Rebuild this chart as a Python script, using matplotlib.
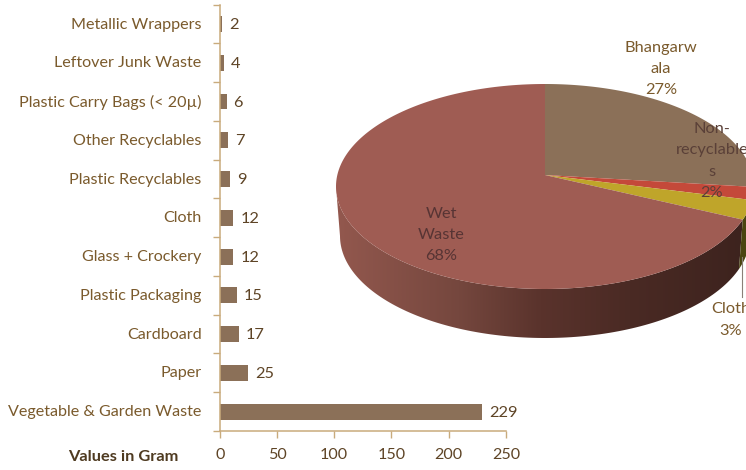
import numpy as np
import matplotlib
matplotlib.use('Agg')
import matplotlib.pyplot as plt
from matplotlib.colors import LinearSegmentedColormap
from matplotlib.patches import Polygon

# bar chart data, bottom to top
bar_labels = ['Vegetable & Garden Waste', 'Paper', 'Cardboard', 'Plastic Packaging',
              'Glass + Crockery', 'Cloth', 'Plastic Recyclables', 'Other Recyclables',
              'Plastic Carry Bags (< 20µ)', 'Leftover Junk Waste', 'Metallic Wrappers']
bar_values = [229, 25, 17, 15, 12, 12, 9, 7, 6, 4, 2]
x_ticks = [0, 50, 100, 150, 200, 250]

# pie chart data, clockwise from 12 o'clock
pie_shares = [27, 2, 3, 68]
pie_names = ['Bhangarw\nala', 'Non-\nrecyclable\ns', 'Cloth', 'Wet\nWaste']
pie_colors = ['#8b7058', '#c4493a', '#bfa52a', '#9f5c53']
side_colors = ['#4a382c', '#5c2019', '#4a4510', None]

W, H = 746, 470
FONT = 'Lato'
TEXT = '#7a5a2c'
DARK = '#5e4426'

plt.rcParams['font.family'] = [FONT, 'DejaVu Sans']
fig = plt.figure(figsize=(W / 100, H / 100), dpi=100, facecolor='white')

# pie drawn in pixel coordinates
pax = fig.add_axes([0, 0, 1, 1])

cx, cy, rx, ry = 545, 186.5, 209, 102.5
apex = (545, 175)
bx, by, brx, bry = 545, 236, 205, 102


def warp(deg):
    # perspective squeezes the angles on the right side a bit
    return deg - 7 * np.sin(np.radians(deg))


def rim(deg, x0=cx, y0=cy, a=rx, b=ry):
    t = np.radians(deg)
    return np.column_stack([x0 + a * np.sin(t), y0 - b * np.cos(t)])


def side_poly(d0, d1):
    ds = np.linspace(d0, d1, 120)
    return np.vstack([rim(ds), rim(ds[::-1], bx, by, brx, bry)])


edges = np.cumsum([0] + pie_shares) * 3.6

# side wall of the big slice has a gradient
wall = LinearSegmentedColormap.from_list('wall', [(0, '#93584e'), (0.3, '#75473e'),
                                                  (0.5, '#5a332c'), (0.72, '#4a2a24'),
                                                  (1, '#3d231e')])
wall_start = warp(edges[3])
img = pax.imshow(np.linspace(0, 1, 256)[None, :], extent=(336, 745, 345, 180),
                 cmap=wall, aspect='auto', zorder=1)
clip = Polygon(side_poly(wall_start, 270), closed=True, transform=pax.transData)
img.set_clip_path(clip)

for i in range(3):
    d0, d1 = warp(edges[i]), warp(edges[i + 1])
    if d1 > 90:
        pax.add_patch(Polygon(side_poly(max(d0, 90), d1), closed=True,
                              fc=side_colors[i], ec='none', zorder=1))

for i, color in enumerate(pie_colors):
    ds = np.linspace(warp(edges[i]), warp(edges[i + 1]), 200)
    pts = np.vstack([[apex], rim(ds)])
    pax.add_patch(Polygon(pts, closed=True, fc=color, ec='none', zorder=2))

# pie labels
PIE_FS = 11.8
LS = 1.68
pax.text(661, 69, f'{pie_names[0]}\n{pie_shares[0]}%', color=TEXT, fontsize=PIE_FS,
         ha='center', va='center', linespacing=LS, zorder=3)
pax.text(712, 161, f'{pie_names[1]}\n{pie_shares[1]}%', color='#5a4038', fontsize=PIE_FS,
         ha='center', va='center', linespacing=LS, zorder=3)
pax.text(441, 235, f'{pie_names[3]}\n{pie_shares[3]}%', color='#573434', fontsize=PIE_FS,
         ha='center', va='center', linespacing=LS, zorder=3)
pax.text(731, 320, f'{pie_names[2]}\n{pie_shares[2]}%', color=TEXT, fontsize=PIE_FS,
         ha='center', va='center', linespacing=LS, zorder=3)
pax.plot([742, 742], [257, 297], color='#8a8078', lw=0.8, zorder=3)

pax.set_xlim(0, W)
pax.set_ylim(H, 0)
pax.axis('off')

# bar chart
left, right, top, bottom = 219.7, 506, 4.6, 431
ax = fig.add_axes([left / W, 1 - bottom / H, (right - left) / W, (bottom - top) / H])
ax.patch.set_alpha(0)
y = np.arange(len(bar_values))
ax.barh(y, bar_values, height=0.41, color='#8b7058')
ax.set_xlim(0, 250)
ax.set_ylim(-0.5, len(bar_values) - 0.5)

for side in ['top', 'right']:
    ax.spines[side].set_visible(False)
for side in ['left', 'bottom']:
    ax.spines[side].set_color('#c9ab7c')
    ax.spines[side].set_linewidth(1.1)

ax.set_xticks(x_ticks)
ax.set_yticks(np.arange(len(bar_values) + 1) - 0.5)
ax.set_yticklabels([])
ax.tick_params(axis='both', color='#c9ab7c', length=5, width=1.0)
ax.tick_params(axis='x', labelsize=11.6, labelcolor=DARK, pad=7)

for yi, name, val in zip(y, bar_labels, bar_values):
    ax.annotate(name, xy=(0, yi), xytext=(-18, -0.6), textcoords='offset pixels',
                ha='right', va='center', color=TEXT, fontsize=11.6, annotation_clip=False)
    ax.annotate(str(val), xy=(val, yi), xytext=(7, -1), textcoords='offset pixels',
                ha='left', va='center', color=DARK, fontsize=11.8, annotation_clip=False)

fig.text(123 / W, 1 - 457 / H, 'Values in Gram', color='#4e3a20', fontsize=11.8,
         fontweight='bold', ha='center', va='center')

fig.savefig('out.png', dpi=100)
